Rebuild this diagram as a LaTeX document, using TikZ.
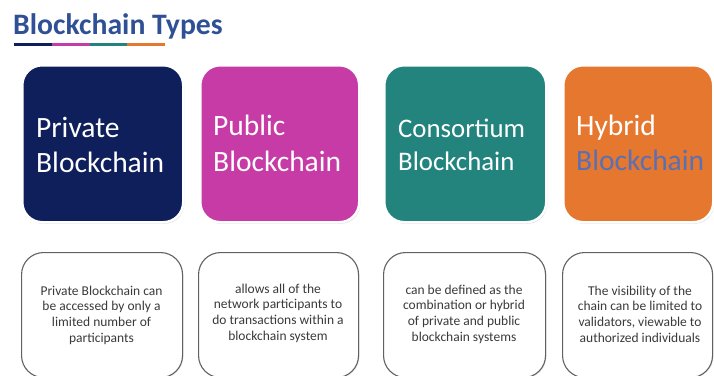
\documentclass[tikz,border=0pt]{standalone}
\usepackage{fontspec}
\setmainfont{Carlito}
\usetikzlibrary{shadows}
\definecolor{navyc}{HTML}{0E1F5B}
\definecolor{magc}{HTML}{C63BA6}
\definecolor{tealc}{HTML}{23847E}
\definecolor{orangec}{HTML}{E5772E}
\definecolor{titlec}{HTML}{2F5095}
\definecolor{hybblue}{HTML}{5A70B4}
\definecolor{bodytxt}{HTML}{3A3A3A}
\tikzset{
  topbox/.style={rectangle, rounded corners=20pt, draw=white, line width=2.5pt,
    inner sep=0pt, anchor=north west,
    drop shadow={opacity=0.3, shadow xshift=1pt, shadow yshift=-1.5pt}},
  botbox/.style={rectangle, rounded corners=22pt, draw=black!62, line width=1.1pt,
    fill=white, inner sep=0pt, anchor=north west,
    drop shadow={opacity=0.15, shadow xshift=1pt, shadow yshift=-1pt}},
  headtxt/.style={anchor=base west, inner sep=0pt, text=white, font=\fontsize{29.5}{36}\selectfont},
  bodytext/.style={align=center, inner sep=0pt, text=bodytxt, font=\fontsize{13.5}{15.6}\selectfont},
  uline/.style={line width=3pt}
}
\begin{document}
\begin{tikzpicture}[x=1pt,y=-1pt]
\useasboundingbox (0,0) rectangle (714,375);
\clip (0,0) rectangle (714,375);
% title
\node[anchor=base west, inner sep=0pt, text=titlec, font=\fontsize{29.7}{34}\selectfont\bfseries] (title) at (13,34) {Blockchain Types};
\coordinate (u0) at (14,44.5);
\coordinate (u1) at (52,44.5);
\coordinate (u2) at (90,44.5);
\coordinate (u3) at (127,44.5);
\coordinate (u4) at (165,44.5);
\draw[uline, navyc] (u0) -- (u1);
\draw[uline, magc] (u1) -- (u2);
\draw[uline, tealc] (u2) -- (u3);
\draw[uline, orangec] (u3) -- (u4);
% top boxes
\node[topbox, fill=navyc, minimum width=161pt, minimum height=157pt] (b1) at (21,64) {};
\node[topbox, fill=magc, minimum width=159pt, minimum height=157pt] (b2) at (199,64) {};
\node[topbox, fill=tealc, minimum width=162pt, minimum height=157pt] (b3) at (383,64) {};
\node[topbox, fill=orangec, minimum width=150pt, minimum height=157pt] (b4) at (562,64) {};
\node[headtxt] (t1a) at (36,137) {Private};
\node[headtxt] (t1b) at (36,172) {Blockchain};
\node[headtxt] (t2a) at (213,135) {Public};
\node[headtxt] (t2b) at (213,171) {Blockchain};
\node[headtxt, font=\fontsize{26.8}{33}\selectfont] (t3a) at (398,137) {Consortium};
\node[headtxt, font=\fontsize{26.8}{33}\selectfont] (t3b) at (398,170) {Blockchain};
\node[headtxt] (t4a) at (576,135) {Hybrid};
\node[headtxt, text=hybblue] (t4b) at (576,170) {Blockchain};
% bottom boxes
\node[botbox, minimum width=161pt, minimum height=125pt] (d1) at (21,252) {};
\node[botbox, minimum width=160pt, minimum height=125pt] (d2) at (198,252) {};
\node[botbox, minimum width=162pt, minimum height=125pt] (d3) at (383,252) {};
\node[botbox, minimum width=150pt, minimum height=125pt] (d4) at (562,252) {};
\node[bodytext] (x1) at (101.5,315) {Private Blockchain can\\be accessed by only a\\limited number of\\participants};
\node[bodytext] (x2) at (278,313) {allows all of the\\network participants to\\do transactions within a\\blockchain system};
\node[bodytext] (x3) at (464,314) {can be defined as the\\combination or hybrid\\of private and public\\blockchain systems};
\node[bodytext] (x4) at (640,314) {The visibility of the\\chain can be limited to\\validators, viewable to\\authorized individuals};
\end{tikzpicture}
\end{document}
